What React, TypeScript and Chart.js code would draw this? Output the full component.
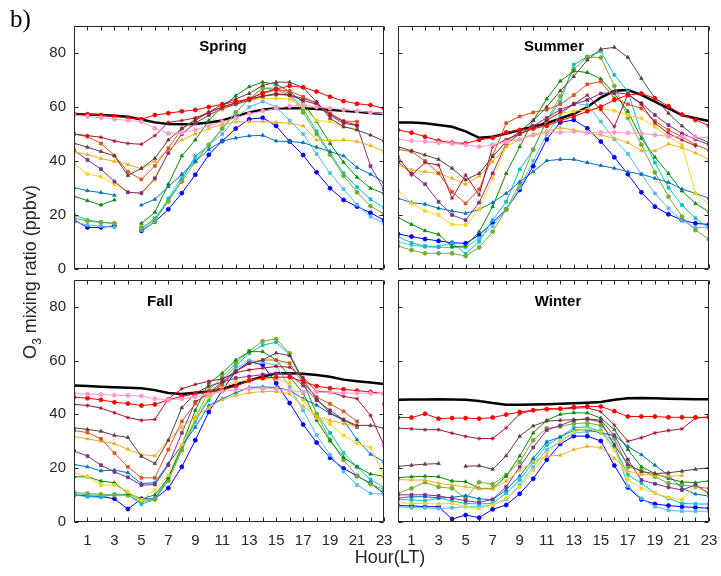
import React, { useEffect, useRef } from 'react';
import { Chart, registerables } from 'chart.js';
Chart.register(...registerables);
Chart.defaults.font.family = 'Liberation Sans, Arial, sans-serif';
Chart.defaults.color = '#262626';

const HOURS = [0, 1, 2, 3, 4, 5, 6, 7, 8, 9, 10, 11, 12, 13, 14, 15, 16, 17, 18, 19, 20, 21, 22, 23];
const Y_TICKS = [0, 20, 40, 60, 80];
const X_TICK_LABELS = [1, 3, 5, 7, 9, 11, 13, 15, 17, 19, 21, 23];

// ---------------- Spring ----------------
const springRed = [57.5, 57.3, 57, 56.5, 56, 55.5, 57, 57.7, 58.4, 58.9, 60, 61, 62, 63, 65.3, 66.7, 67.8, 67.3, 65.7, 63.8, 62.2, 61.2, 60.7, 59.5];
const springMean = [57.4, 57.2, 57, 56.8, 56.4, 55.4, 54.3, 53.7, 53.6, 53.7, 54.3, 55, 56.5, 58, 59, 59.5, 59.5, 59.5, 59.3, 59, 58.6, 58.2, 57.8, 57.4];
const springPink = [57, 56.5, 56, 55.5, 55, 54.5, 52.1, 50.2, 50.5, 51.5, 53, 54.5, 56, 57.5, 58.5, 59.5, 60.3, 60.8, 60, 59.5, 59, 58.5, 58, 57.5];
const springCrimson = [50, 49.4, 48.8, 47.4, 46.5, 46.2, 49.4, 54.3, 55, 56, 58, 60, 61.5, 63, 64, 65, 64.4, 62.5, 61, 57.3, 54.6, 53.3, null, null];
const springBrown = [46.6, 45.1, 43.5, 41.9, 34.6, 37.3, 41, 47.8, 52, 55, 58, 61, 63, 65, 68, 69.2, 69.2, 67.2, 61.9, 55.8, 52.7, 51.5, 49.6, 47.4];
const springOrangeRed = [50, 49, 46.5, 42, 36, 33.2, 38.2, 44.7, 52, 55.5, 58, 60, 61.5, 63, 65, 66.3, 65.9, 63.8, 61.2, 57.7, 54.8, 54.6, null, null];
const springOrange = [43.4, 42.4, 40.9, 39.9, 38.7, 37.1, 39.9, 44.1, 47.8, 50, 52, 53.5, 54.5, 54.6, 54.6, 54.3, 54, 53, 47.8, 47.5, 47.8, 47.2, 45.7, 43.6];
const springPurple = [44, 40.4, 37, 32.4, 28.4, 28.1, 33.6, 43, 50, 54, 57, 59.5, 61, 62.5, 64, 64.6, 64.4, 63.2, 61.7, 56.8, 54, 53.1, 38.1, 29.5];
const springYellow = [38.9, 35.2, 34.2, 31.4, 28.4, 28.1, 33, 42.9, 50, 54, 57, 59, 61, 62.5, 63.2, 63.2, 62.9, 60, 55, 54.6, 52.7, 52, null, null];
const springSteel = [30.1, 29, 28.3, 27.3, null, 23.7, 25.8, 30.5, 35.1, 39.8, 44.3, 47.4, 48.5, 49.3, 49.5, 47.4, 47.2, 46.8, 45.1, 43.5, 41.9, 37.6, 35.1, 32.1];
const springGreen = [27, 25.3, 23.7, 25.6, null, 16.9, 21, 31.4, 41.9, 47.8, 55, 60, 64.2, 67.5, 69.2, 68.4, 65.7, 61.7, 54.6, 46.5, 39.5, 34, 29.9, 28];
const springLightGreen = [18.8, 17.8, 17.2, 16.9, null, 15.4, 18.1, 25, 32.4, 39.8, 46, 52, 58, 63, 67, 66.3, 64.4, 58, 50, 42.3, 34.5, 28.4, 23.3, 20.4];
const springCyan = [20, 18.1, 17.4, 16.9, null, 14.7, 18.8, 25.6, 33, 41.9, 45.6, 52, 58, 63, 67, 67, 65, 59.3, 51, 42.9, 35.5, 30.3, 25.8, 22.8];
const springLightBlue = [17.5, 16.3, 15.9, 15.4, null, 14.4, 17.5, 26.2, 34.2, 41, 46, 50, 56, 60, 62, 60, 55, 50, 42.6, 35.5, 29.6, 23.8, 19.4, 16.9];
const springBlue = [18.1, 15.4, 15.4, 16, null, 14.1, 17.5, 22.1, 28.1, 34.9, 42.3, 47.4, 52, 55.5, 56, 53, 47.2, 42.2, 35.8, 29.9, 25.6, 23.1, 20.8, 18.1];

// ---------------- Summer ----------------
const summerRed = [51.5, 50.5, 49, 47.5, 46.8, 46.5, 47.8, 48.6, 50.6, 51.5, 52, 53, 55, 56.5, 58.4, 60.1, 62.6, 64.4, 65, 63.2, 60.3, 57.2, 55.2, 53.1];
const summerMean = [54.3, 54.3, 54, 53.3, 52.7, 51, 48.6, 49, 50.2, 51.5, 52.7, 54, 55.8, 57.5, 60, 63.5, 66, 66.3, 64.5, 62, 59.5, 57, 55.8, 54.8];
const summerPink = [48, 47.5, 47.2, 46.8, 46.5, 46, 45.3, 46, 47, 48, 49.5, 50.5, 50.6, 50.9, 50.6, 50.6, 50.6, 50.4, 50.2, 49.6, 49.2, 49, 48.8, 48.6];
const summerCrimson = [41.6, 34.8, 39.4, 38.5, 26.2, 34.8, 27.4, 45.3, 48, 50, 52, 55, 58, 61, 64.4, 59, 52.7, 64.7, 61, 54, 50.2, 47.8, 45.6, null];
const summerBrown = [45.3, 43.8, 42.2, 40.6, 37.3, 33, 35.4, 41.6, 47.2, 51, 55, 60, 66, 71.3, 77.4, 81.4, 82.1, 78.4, 70.6, 63.2, 57.7, 53, 49, 46.8];
const summerOrangeRed = [44.3, 43.5, 40, 35.4, 28.6, 24.3, 29.5, 42, 54, 56.5, 58, 59, 61, 64.4, 68.4, 69.4, 63.2, 61, 59.5, 54.8, 51.5, 49, 46, 44];
const summerOrange = [38.5, 36.7, 36, 35.4, 33.6, 31.4, 34.4, 39.7, 45.3, 48, 50, 51, 52.3, 51.5, 50.5, 49.6, 48.4, 46.8, 43.8, 43.8, 46.3, 45, 43, 40.6];
const summerYellow = [29, 24.3, 21.5, 20, 16.5, 16.3, 22.2, 33.6, 45.3, 50, 53, 56, 57.7, 58.4, 59, 59.3, 58.6, 57, 55.8, 52.7, 49, 46, 28, 24.3];
const summerPurple = [39.7, 35.4, 31.4, 24.9, 20, 18.1, 24.6, 35.4, 46.5, 50, 53, 56, 59, 61, 62.6, 65, 65.4, 64.7, 61.4, 57, 53.3, 50.2, 48, 46];
const summerSteel = [26.2, 24.6, 24, 22.5, 21.5, 20.6, 22.1, 24.6, 28, 32.3, 36, 40.1, 40.6, 40.6, 39.4, 38.3, 37.3, 36, 35.1, 33.6, 32.1, 29.6, 28, 26.2];
const summerGreen = [19.1, 16.5, 14.2, 12.8, 8.3, 8.5, 13.8, 23.1, 35.4, 45.3, 55, 63, 69.6, 73.3, 72.8, 70.4, 65, 58.4, 48.4, 41.4, 35.4, 28.9, 24.3, 21.2];
const summerLightGreen = [8.5, 7, 5.8, 5.8, 5.8, 4.8, 8, 13.8, 22.1, 31.7, 44.3, 55, 64, 74, 78.5, 78.3, 67.8, 56, 46, 35.8, 26.8, 19.4, 14.4, 11];
const summerCyan = [12, 9.7, 8.5, 8.3, 9.7, 5.6, 10.1, 18.1, 24.9, 36.9, 44.1, 55, 62, 75.7, 78.6, 80.6, 71.9, 65.7, 50, 39.4, 30.1, 23.7, 18.8, 15.1];
const summerLightBlue = [10.1, 8.9, 8.2, 8, 8, 8, 11.4, 15.9, 21.9, 30, 40, 50, 57, 61.4, 60.7, 54.6, 48, 42.6, 35.1, 28, 22.5, 17.8, 15.3, 15.5];
const summerBlue = [13, 12, 11.1, 10.4, 9.7, 9.5, 12.6, 17.2, 22.1, 29.3, 38.1, 48, 54.3, 55.2, 52.1, 47.2, 41.4, 35.1, 28.4, 23.1, 20.3, 18.1, 16.9, 16.5];

// ---------------- Fall ----------------
const fallRed = [46.4, 46, 45.4, 44.5, 44, 43.3, 43.7, 45.4, 46.7, 47.6, 48.2, 49, 50.4, 52.6, 53.5, 53.8, 53.8, 52.2, 50.5, 49.7, 49.3, 48.8, 48.3, 47.7];
const fallMean = [50.7, 50.5, 50.3, 50.1, 49.9, 49.7, 49, 47.9, 47.6, 48, 48.5, 49.5, 51, 52.6, 54, 55.3, 55.3, 55.1, 54.6, 54, 52.9, 52.3, 51.8, 51.3];
const fallPink = [47.7, 47.5, 47.4, 47.1, 47, 46.8, 45.8, 45.4, 45.8, 46.5, 47.5, 48.5, 49.1, 49.5, 49.5, 49.5, 48.9, 48.3, 48.3, 48.2, 47.9, 47.9, 47.8, 47.7];
const fallCrimson = [43.7, 43.3, 42.3, 40.6, 38.8, 37.8, 38.1, 45.8, 49.5, 51.1, 52.3, 53.2, 55.5, 56.5, 57.2, 57.8, 57.5, 53.8, 48.5, 48.3, 46.7, 45.8, 39.6, 28.5];
const fallBrown = [35, 34.4, 33.7, 32.2, 31.4, 24.4, 21.7, 30.4, 42.5, 47.9, 50.4, 52, 56, 58.8, 60.2, 62.8, 61.8, 52.8, 45.8, 40.5, 38, 35.9, 35.9, 34.9];
const fallOrangeRed = [34, 33.2, 30.9, 25.6, 20.5, 16.4, 16.4, 26.9, 37.4, 44, 48, 51, 56, 59, 60.2, 60.2, 59, 51.6, 46.4, 43.9, 41.1, 37.4, null, 43.9];
const fallOrange = [31.8, 30.9, 30, 29.1, 27, 25, 24.6, 30.4, 35.2, 39, 42.5, 45.4, 47, 48, 48.5, 48.5, 47.7, 43, 39, 37.8, 36.5, 35.6, null, null];
const fallPurple = [26.4, 24.5, 21.1, 18.6, 16.6, 13.7, 13.9, 21.1, 33.1, 44.6, 48, 52, 53.5, 54.1, 54.8, 55.2, 54.8, 50.7, 45.2, 41.5, 38, 35.3, null, null];
const fallYellow = [18.3, 16.8, 13.7, 13.7, 11.2, 8.1, 11.9, 17.4, 28.8, 38.4, 46.4, 50, 52, 52.8, 53.2, 53.2, 51.6, 45.2, 38.8, 36.5, 32.2, 29.2, 27.7, 17.5];
const fallSteel = [21.4, 20.5, 19, 19.3, 18.3, 14.3, 14.6, 21.7, 28.5, 35.2, 43.2, 45.8, 48, 50, 50.2, 50, 48.9, 45.8, 43.4, 40.3, 37.8, 30.6, 25.2, 22.4];
const fallGreen = [16.8, 16.8, 15.2, 14.6, 10.6, 8.7, 10, 16.4, 28.5, 41.5, 51.6, 55.3, 60.2, 63.3, 63.3, 60.2, 54, 47.9, 37.8, 30.1, 24, 20.5, 17.8, 17];
const fallLightGreen = [11, 10.6, 10.3, 10, 9.9, 7.5, 8.4, 15.3, 26.7, 38.4, 48.9, 53.9, 59, 63.5, 67.2, 68, 62.7, 52.6, 40, 30.6, 23, 17.1, 14.1, 12.1];
const fallCyan = [10.1, 9.4, 9.2, 10.4, 10.1, 6.6, 8.4, 16.8, 27.4, 37.8, 45.2, 52.6, 58, 62.7, 65.7, 66.8, 62.2, 51.6, 40.3, 33.1, 25.7, 20.5, 15.8, 12.8];
const fallLightBlue = [10.5, 10.1, 9.9, 9.9, 10.5, 8.1, 8.7, 16.1, 26.7, 37.1, 46.4, 51.3, 57, 60, 59.4, 58.1, 50.1, 41.5, 32.3, 24.9, 18.7, 13.8, 10.6, 10.4];
const fallBlue = [10.1, 9.7, 9.5, 8.6, 4.8, 8.6, 8.6, 12.6, 20.5, 30.4, 40.9, 48.9, 56, 59.6, 58.4, 51.6, 44.2, 36.2, 29.5, 23.9, 19.9, 17.1, 14.4, 10.6];

// ---------------- Winter ----------------
const winterRed = [38.8, 38.8, 40.2, 38.4, 38.6, 38.6, 38.4, 38.8, 39.9, 40.9, 41.5, 41.9, 42.1, 42.7, 43, 42.9, 41.2, 39.2, 39.2, 39.2, 38.9, 38.9, 38.9, 38.9];
const winterMean = [45.4, 45.5, 45.5, 45.6, 45.5, 45.4, 45, 44.2, 43.6, 43.6, 43.7, 43.8, 43.95, 44.1, 44.3, 44.6, 45.4, 46, 46.1, 46, 45.8, 45.7, 45.6, 45.6];
const winterCrimson = [34.9, 34.6, 34.3, 34.3, 33, 31.8, 31, 31, 35, 40.2, 41.5, 42.1, 42, 42.3, 42.5, 41, 36, 30, 31.3, 33.1, 34, 34.6, 38.6, 39];
const winterBrown = [20.7, 21.1, 21.5, 21.7, null, 20.7, 20.9, 19.6, 24.6, 31.9, 35.7, 37.5, 37.8, 38, 38.2, 37.2, 28.6, 21.5, 18.7, 18, 18.3, 18.9, 19.6, 20.2];
const winterGreen = [16.5, 16.8, 17, 16.8, 15.2, 15, 12.5, 12.5, 17, 24.5, 33.1, 37.8, 40, 40.6, 40.5, 38.6, 34.3, 26.9, 20.5, 18, 16.2, 14.9, 14.6, 15.3];
const winterOrange = [15.8, 15.6, 15.6, 14.4, 13.7, 13.1, 12.3, 12.3, 15.2, 19.3, 22.3, 24.5, 24.8, 26.9, 28.1, 27.7, 23.6, 18.9, 17.7, 17.3, 17, 17.3, null, null];
const winterLightGreen = [10.7, 12.5, 14.8, 13, 12.5, 8.8, 14.8, 14, 17.5, 22.3, 30.4, 34.8, 35.5, 36.6, 36.8, 35.9, 31, 20.5, 19.3, 16.8, 14.4, 13.8, 13.1, 12.5];
const winterPurple = [10.1, 10.1, 10.1, 9.7, 8.8, 7.9, 7.3, 8.4, 13.1, 20.5, 27.7, 34.1, 35.9, 37.8, 38.4, 37.8, 32.2, 23.2, 15.6, 14.2, 12.9, 11.9, 13.8, 10.7];
const winterSteel = [8.9, 9.4, 9.4, 8.9, 9.2, 9.8, 8.6, 8.3, 11.9, 17.1, 23.6, 29.8, 31.6, 34.1, 34.3, 33.1, 32.2, 28.1, 25, 21.1, 17.4, 12.5, 10.4, 9.6];
const winterCyan = [8.4, 8.2, 7.9, 8.9, 7.8, 6.9, 6.7, 6.9, 10.7, 15.6, 22.3, 28.6, 31.5, 35.1, 35.3, 33.7, 27.9, 17.5, 14.4, 10.7, 8.8, 6.9, 6.7, 6.7];
const winterYellow = [7.2, 6.9, 6.9, 6.7, 6.9, 5.7, 5, 6.3, 8.8, 12.9, 19.1, 25.6, 30, 33.5, 34.7, 33.5, 26.7, 15.8, 12.5, 10.7, 9.1, 8.4, 13.5, 10.1];
const winterLightBlue = [5.7, 5.3, 5.3, 5, 5.3, 5.7, 5.7, 6.3, 8.4, 13.7, 20.5, 26.8, 29.8, 33.1, 33.5, 34.1, 29.2, 13.3, 8.8, 5.7, 4.4, 4, 4, 4];
const winterBlue = [6.1, 6, 5.7, 5.7, 1.1, 2.6, 1.6, 4.7, 6.3, 10.5, 16.1, 23.1, 29, 31.9, 31.9, 30.1, 21, 12.8, 8.4, 6.7, 6.1, 5.7, 5.4, 5.1];

const C = {
  red: '#FF0000', pink: '#FF99CC', crimson: '#A2142F', brown: '#643C3C',
  orangeRed: '#D95319', orange: '#EDB120', yellow: '#FFD21E', purple: '#7E2F8E',
  steel: '#0072BD', green: '#0A8A0A', lightGreen: '#77AC30', cyan: '#00C0C8',
  lightBlue: '#4DBEEE', blue: '#0000FF', mean: '#000000',
};
const M = {
  red: 'circle', pink: 'circle', crimson: 'star', brown: 'triangle', orangeRed: 'rect',
  orange: 'triangle', yellow: 'rect', purple: 'rect', steel: 'triangle', green: 'triangle',
  lightGreen: 'circle', cyan: 'rect', lightBlue: 'rect', blue: 'circle', mean: 'circle',
};

type S = { key: keyof typeof C; values: (number | null)[] };

const springSeries: S[] = [
  { key: 'pink', values: springPink }, { key: 'red', values: springRed },
  { key: 'crimson', values: springCrimson }, { key: 'brown', values: springBrown },
  { key: 'orangeRed', values: springOrangeRed }, { key: 'orange', values: springOrange },
  { key: 'purple', values: springPurple }, { key: 'yellow', values: springYellow },
  { key: 'steel', values: springSteel }, { key: 'green', values: springGreen },
  { key: 'lightGreen', values: springLightGreen }, { key: 'cyan', values: springCyan },
  { key: 'lightBlue', values: springLightBlue }, { key: 'blue', values: springBlue },
  { key: 'mean', values: springMean },
];
const summerSeries: S[] = [
  { key: 'pink', values: summerPink }, { key: 'red', values: summerRed },
  { key: 'crimson', values: summerCrimson }, { key: 'brown', values: summerBrown },
  { key: 'orangeRed', values: summerOrangeRed }, { key: 'orange', values: summerOrange },
  { key: 'purple', values: summerPurple }, { key: 'yellow', values: summerYellow },
  { key: 'steel', values: summerSteel }, { key: 'green', values: summerGreen },
  { key: 'lightGreen', values: summerLightGreen }, { key: 'cyan', values: summerCyan },
  { key: 'lightBlue', values: summerLightBlue }, { key: 'blue', values: summerBlue },
  { key: 'mean', values: summerMean },
];
const fallSeries: S[] = [
  { key: 'pink', values: fallPink }, { key: 'red', values: fallRed },
  { key: 'crimson', values: fallCrimson }, { key: 'brown', values: fallBrown },
  { key: 'orangeRed', values: fallOrangeRed }, { key: 'orange', values: fallOrange },
  { key: 'purple', values: fallPurple }, { key: 'yellow', values: fallYellow },
  { key: 'steel', values: fallSteel }, { key: 'green', values: fallGreen },
  { key: 'lightGreen', values: fallLightGreen }, { key: 'cyan', values: fallCyan },
  { key: 'lightBlue', values: fallLightBlue }, { key: 'blue', values: fallBlue },
  { key: 'mean', values: fallMean },
];
const winterSeries: S[] = [
  { key: 'red', values: winterRed }, { key: 'crimson', values: winterCrimson },
  { key: 'brown', values: winterBrown }, { key: 'orange', values: winterOrange },
  { key: 'purple', values: winterPurple }, { key: 'yellow', values: winterYellow },
  { key: 'steel', values: winterSteel }, { key: 'green', values: winterGreen },
  { key: 'lightGreen', values: winterLightGreen }, { key: 'cyan', values: winterCyan },
  { key: 'lightBlue', values: winterLightBlue }, { key: 'blue', values: winterBlue },
  { key: 'mean', values: winterMean },
];

const AXIS = '#262626';

const boxPlugin = {
  id: 'matlabBox',
  afterDraw(chart: any) {
    const { ctx, chartArea: a, scales } = chart;
    const L = Math.round(a.left) + 0.5, R = Math.round(a.right) - 0.5;
    const T = Math.round(a.top) + 0.5, B = Math.round(a.bottom) - 0.5;
    ctx.save();
    ctx.strokeStyle = AXIS;
    ctx.lineWidth = 1;
    ctx.beginPath();
    ctx.rect(L, T, R - L, B - T);
    HOURS.forEach((h) => {
      const x = Math.round(scales.x.getPixelForValue(h)) + 0.5;
      ctx.moveTo(x, B); ctx.lineTo(x, B - 4);
      ctx.moveTo(x, T); ctx.lineTo(x, T + 4);
    });
    Y_TICKS.forEach((v) => {
      const y = Math.round(scales.y.getPixelForValue(v)) + 0.5;
      ctx.moveTo(L, y); ctx.lineTo(L + 4, y);
      ctx.moveTo(R, y); ctx.lineTo(R - 4, y);
    });
    ctx.stroke();
    ctx.restore();
  },
};

const zeroPad = (s: any) => {
  s.paddingLeft = 0; s.paddingRight = 0; s.paddingTop = 0; s.paddingBottom = 0;
};

type PanelProps = {
  left: number; top: number; width: number; height: number;
  area: { left: number; top: number; right: number; bottom: number };
  series: S[]; showX: boolean; showY: boolean;
};

function Panel({ left, top, width, height, area, series, showX, showY }: PanelProps) {
  const ref = useRef<HTMLCanvasElement>(null);
  useEffect(() => {
    if (!ref.current) return;
    const chart = new Chart(ref.current, {
      type: 'line',
      data: {
        datasets: series.map((s) => {
          const isMean = s.key === 'mean';
          return {
            label: s.key,
            data: s.values.map((v, i) => ({ x: HOURS[i], y: v })),
            borderColor: C[s.key],
            backgroundColor: C[s.key],
            pointBackgroundColor: C[s.key],
            pointBorderColor: C[s.key],
            borderWidth: isMean ? 2.5 : 1,
            pointRadius: isMean ? 0 : 2,
            pointBorderWidth: 0.8,
            pointStyle: M[s.key] as any,
            tension: 0,
            spanGaps: false,
            fill: false,
          };
        }),
      },
      options: {
        animation: false,
        responsive: false,
        maintainAspectRatio: false,
        devicePixelRatio: 1,
        events: [],
        layout: { padding: { top: area.top, right: width - area.right, left: 0, bottom: 0 } },
        plugins: { legend: { display: false }, tooltip: { enabled: false }, title: { display: false } },
        scales: {
          x: {
            type: 'linear', min: 0, max: 23,
            afterFit: (s: any) => { s.height = height - area.bottom; zeroPad(s); },
            grid: { display: false, drawTicks: false },
            border: { display: false },
            ticks: {
              display: showX, stepSize: 1, autoSkip: false, maxRotation: 0, padding: 10,
              color: AXIS, font: { size: 15 },
              callback: (v: any) => (X_TICK_LABELS.includes(Number(v)) ? String(v) : ''),
            },
          },
          y: {
            type: 'linear', min: 0, max: 90,
            afterFit: (s: any) => { s.width = area.left; zeroPad(s); },
            grid: { display: false, drawTicks: false },
            border: { display: false },
            ticks: {
              display: showY, stepSize: 20, includeBounds: false, padding: 8,
              color: AXIS, font: { size: 15 },
              callback: (v: any) => (Y_TICKS.includes(Number(v)) ? String(v) : ''),
            },
          },
        },
      } as any,
      plugins: [boxPlugin],
    });
    return () => chart.destroy();
  }, []);
  return (
    <canvas ref={ref} width={width} height={height}
      style={{ position: 'absolute', left, top, width, height }} />
  );
}

const titleStyle: React.CSSProperties = {
  position: 'absolute', fontWeight: 'bold', fontSize: 15, lineHeight: 1,
  transform: 'translateX(-50%)', whiteSpace: 'nowrap', color: '#000',
};

export default function App() {
  return (
    <div style={{
      position: 'absolute', left: 0, top: 0, width: 721, height: 576, background: '#fff',
      fontFamily: 'Liberation Sans, Arial, sans-serif', color: AXIS, overflow: 'hidden',
    }}>
      <Panel left={0} top={0} width={400} height={285}
        area={{ left: 74, top: 26, right: 384, bottom: 269 }} series={springSeries} showX={false} showY={true} />
      <Panel left={391} top={0} width={330} height={285}
        area={{ left: 7, top: 26, right: 318, bottom: 269 }} series={summerSeries} showX={false} showY={false} />
      <Panel left={0} top={275} width={400} height={301}
        area={{ left: 74, top: 4, right: 384, bottom: 247 }} series={fallSeries} showX={true} showY={true} />
      <Panel left={391} top={275} width={330} height={301}
        area={{ left: 7, top: 4, right: 318, bottom: 247 }} series={winterSeries} showX={true} showY={false} />

      <div style={{ ...titleStyle, left: 223, top: 38 }}>Spring</div>
      <div style={{ ...titleStyle, left: 554, top: 38 }}>Summer</div>
      <div style={{ ...titleStyle, left: 160, top: 293 }}>Fall</div>
      <div style={{ ...titleStyle, left: 558, top: 293 }}>Winter</div>

      <div style={{
        position: 'absolute', left: 10, top: 6, fontFamily: 'Liberation Serif, Times New Roman, serif',
        fontSize: 25, lineHeight: 1, color: '#000',
      }}>b)</div>

      <div style={{
        position: 'absolute', left: 390, top: 557, transform: 'translate(-50%, -50%)',
        fontSize: 18, whiteSpace: 'nowrap', lineHeight: 1,
      }}>Hour(LT)</div>

      <div style={{
        position: 'absolute', left: 30, top: 272, transform: 'translate(-50%, -50%) rotate(-90deg)',
        fontSize: 18, whiteSpace: 'nowrap', lineHeight: 1,
      }}>O<sub style={{ fontSize: 12, lineHeight: 0 }}>3</sub> mixing ratio (ppbv)</div>
    </div>
  );
}
